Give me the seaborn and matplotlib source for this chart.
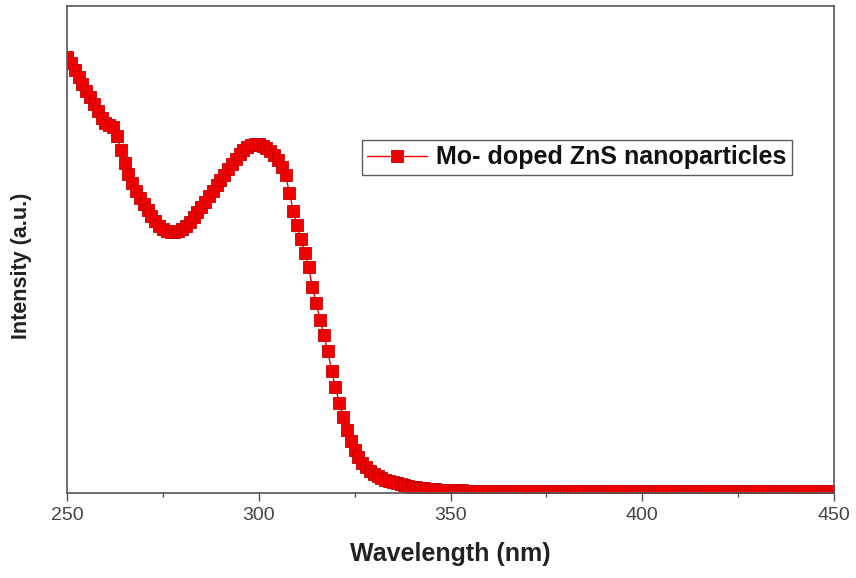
import numpy as np
import matplotlib
matplotlib.use('Agg')
import matplotlib.pyplot as plt
import seaborn as sns

# Wavelength sampling grid (nm)
wavelength = np.arange(250, 451)

# Intensity (a.u.), one value per nm from 250 to 450
intensity = [
    436, 430, 423, 416, 409, 402, 396, 389, 382, 375,   # 250-259
    370, 368, 366, 357, 343, 330, 319, 310, 302, 295,   # 260-269
    289, 283, 277, 272, 267, 264, 262, 261, 261, 262,   # 270-279
    264, 267, 271, 276, 281, 286, 291, 297, 302, 308,   # 280-289
    313, 318, 324, 329, 334, 339, 343, 346, 348, 349,   # 290-299
    349, 347, 345, 342, 338, 333, 326, 318, 300, 282,   # 300-309
    268, 254, 240, 226, 206, 190, 173, 158, 142, 122,   # 310-319
    106, 90, 76, 63, 52, 43, 36, 30, 26, 22,            # 320-329
    19, 17, 15, 13, 12, 11, 10, 9, 8, 7,                # 330-339
    6.5, 6, 5.5, 5, 4.5, 4, 4, 3.5, 3.5, 3,             # 340-349
    3, 2.8, 2.7, 2.6, 2.5, 2.4, 2.3, 2.2, 2.1, 2.0,     # 350-359
    2.0, 2.0, 1.9, 1.9, 1.9, 1.9, 1.8, 1.8, 1.8, 1.8,   # 360-369
    1.8, 1.8, 1.8, 1.8, 1.8, 1.8, 1.8, 1.8, 1.8, 1.8,   # 370-379
    1.8, 1.8, 1.8, 1.8, 1.8, 1.8, 1.8, 1.8, 1.8, 1.8,   # 380-389
    1.8, 1.8, 1.8, 1.8, 1.8, 1.8, 1.8, 1.8, 1.8, 1.8,   # 390-399
    1.8, 1.8, 1.8, 1.8, 1.8, 1.8, 1.8, 1.8, 1.8, 1.8,   # 400-409
    1.8, 1.8, 1.8, 1.8, 1.8, 1.8, 1.8, 1.8, 1.8, 1.8,   # 410-419
    1.8, 1.8, 1.8, 1.8, 1.8, 1.8, 1.8, 1.8, 1.8, 1.8,   # 420-429
    1.8, 1.8, 1.8, 1.8, 1.8, 1.8, 1.8, 1.8, 1.8, 1.8,   # 430-439
    1.8, 1.8, 1.8, 1.8, 1.8, 1.8, 1.8, 1.8, 1.8, 1.8,   # 440-449
    1.8,                                                # 450
]

series_label = 'Mo- doped ZnS nanoparticles'
major_ticks = [250, 300, 350, 400, 450]
minor_ticks = [275, 325, 375, 425]

sns.set_style('ticks')
plt.rcParams['font.family'] = ['Liberation Sans', 'DejaVu Sans']

fig = plt.figure(figsize=(8.56, 5.78), dpi=100)
ax = fig.add_axes([67/856, 1-493/578, (834-67)/856, (493-6)/578])

sns.lineplot(x=wavelength, y=intensity, ax=ax, color='#ee0000',
             marker='s', markersize=8, markeredgecolor='#c80000',
             markeredgewidth=0.6, linewidth=1.0, label=series_label)

ax.set_xlim(250, 450)
ax.set_ylim(0, 487)
ax.set_yticks([])
ax.set_xticks(major_ticks)
ax.set_xticks(minor_ticks, minor=True)
ax.tick_params(axis='x', which='major', length=6, width=1, direction='out',
               labelsize=14, labelcolor='#444444', color='#555555', pad=4)
ax.tick_params(axis='x', which='minor', length=3, width=1, color='#555555')
for s in ax.spines.values():
    s.set_color('#555555')
    s.set_linewidth(1.2)

ax.set_xlabel('Wavelength (nm)', fontsize=18, fontweight='bold', color='#222222')
ax.set_ylabel('Intensity (a.u.)', fontsize=15.5, fontweight='bold', color='#222222')
ax.xaxis.set_label_coords(0.4994, -0.100)
ax.yaxis.set_label_coords(-0.045, 0.466)

leg = ax.legend(loc='lower left', bbox_to_anchor=(0.3846, 0.653), borderaxespad=0,
                frameon=True, fancybox=False, prop={'weight': 'bold', 'size': 18},
                handlelength=2.4, borderpad=0.22, handletextpad=0.35)
leg.get_frame().set_edgecolor('#333333')
leg.get_frame().set_linewidth(1.0)
for t in leg.get_texts():
    t.set_color('#111111')

fig.savefig('out.png', dpi=100)
